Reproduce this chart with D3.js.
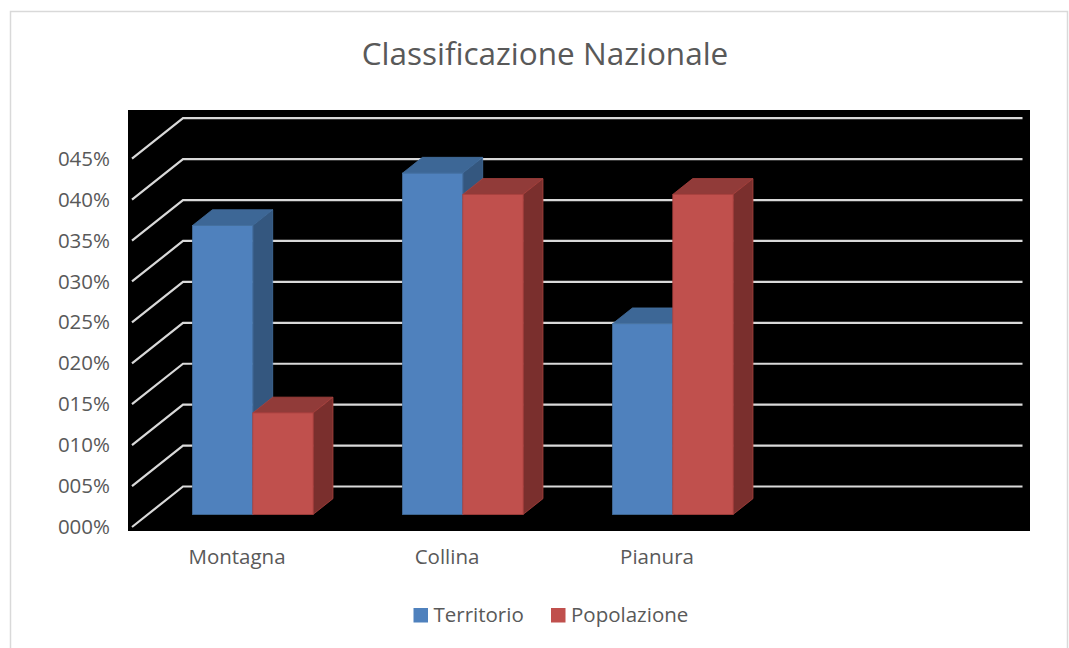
<!DOCTYPE html>
<html lang="it">
<head>
<meta charset="utf-8">
<title>Classificazione Nazionale</title>
<script src="https://cdn.jsdelivr.net/npm/d3@7"></script>
<style>
  body { margin: 0; background: #fff; }
  svg text { font-family: "Open Sans", sans-serif; fill: #595959; }
</style>
</head>
<body>
<svg id="chart" width="1069" height="648"></svg>
<script>
// data
var categories = ["Montagna", "Collina", "Pianura", ""];
var seriesNames = ["Territorio", "Popolazione"];
var territorio = [0.353, 0.417, 0.233];
var popolazione = [0.124, 0.391, 0.391];
var yTicks = [0, 0.05, 0.10, 0.15, 0.20, 0.25, 0.30, 0.35, 0.40, 0.45];

var W = 1069, H = 648;
var svg = d3.select("#chart");

// colours: front, top, side
var palette = {
  Territorio: { front: "#4F81BD", top: "#3D6796", side: "#34577F", edge: "#45709F" },
  Popolazione: { front: "#C0504D", top: "#913B39", side: "#7A2F2D", edge: "#A9423F" }
};

// oblique depth of the floor: full depth shifts x by +51, y by -40.5
var depthX = d3.scaleLinear().domain([0, 1]).range([0, 51]);
var depthY = d3.scaleLinear().domain([0, 1]).range([0, -40.5]);
var barDepth = [0.31, 0.70];

// scales on the front plane
var y = d3.scaleLinear().domain([0, 0.45]).range([527, 527 - 0.45 * 818.5]);
var x = d3.scaleBand().domain(categories).range([132, 972])
  .paddingInner(0.426).paddingOuter(0.213);
var xs = d3.scaleBand().domain(seriesNames).range([0, x.bandwidth()]);

// outer border
svg.append("rect")
  .attr("x", 10.5).attr("y", 11.5)
  .attr("width", 1057).attr("height", H)
  .attr("fill", "#fff").attr("stroke", "#D9D9D9").attr("stroke-width", 1.5);

// title
svg.append("text")
  .attr("x", 545).attr("y", 65)
  .attr("text-anchor", "middle")
  .style("font-size", "31.5px")
  .text("Classificazione Nazionale");

// black plot area
svg.append("rect")
  .attr("x", 128).attr("y", 110)
  .attr("width", 902).attr("height", 421)
  .attr("fill", "#000");

// gridlines: diagonal on the side wall, then flat along the back wall
svg.append("g").selectAll("path")
  .data(yTicks)
  .join("path")
  .attr("d", function(v) {
    var x0 = 132, y0 = y(v);
    var x1 = x0 + depthX(1), y1 = y0 + depthY(1);
    return "M" + x0 + "," + y0 + "L" + x1 + "," + y1 + "L1022.5," + y1;
  })
  .attr("fill", "none")
  .attr("stroke", "#D9D9D9")
  .attr("stroke-width", 2.2);

// bars
var bars = [];
categories.forEach(function(c, i) {
  if (territorio[i] != null) bars.push({ cat: c, s: "Territorio", v: territorio[i] });
  if (popolazione[i] != null) bars.push({ cat: c, s: "Popolazione", v: popolazione[i] });
});

var dx0 = depthX(barDepth[0]), dy0 = depthY(barDepth[0]);
var dd = depthX(barDepth[1]) - dx0, ddy = depthY(barDepth[1]) - dy0;

var g = svg.append("g").selectAll("g")
  .data(bars)
  .join("g");

g.each(function(d) {
  var sel = d3.select(this);
  var col = palette[d.s];
  var left = x(d.cat) + xs(d.s) + dx0;
  var right = left + xs.bandwidth();
  var bottom = y(0) + dy0;
  var top = y(d.v) + dy0;
  sel.append("path")
    .attr("d", "M" + left + "," + top + "L" + (left + dd) + "," + (top + ddy) +
      "L" + (right + dd) + "," + (top + ddy) + "L" + right + "," + top + "Z")
    .attr("fill", col.top).attr("stroke", col.edge).attr("stroke-width", 0.8);
  sel.append("path")
    .attr("d", "M" + right + "," + top + "L" + (right + dd) + "," + (top + ddy) +
      "L" + (right + dd) + "," + (bottom + ddy) + "L" + right + "," + bottom + "Z")
    .attr("fill", col.side).attr("stroke", col.edge).attr("stroke-width", 0.8);
  sel.append("rect")
    .attr("x", left).attr("y", top)
    .attr("width", right - left).attr("height", bottom - top)
    .attr("fill", col.front).attr("stroke", col.edge).attr("stroke-width", 0.8);
});

// y axis labels
var yAxis = svg.append("g")
  .attr("transform", "translate(132,0)")
  .call(d3.axisLeft(y).tickValues(yTicks).tickSize(0).tickPadding(22)
    .tickFormat(function(v) { return String(Math.round(v * 100)).padStart(3, "0") + "%"; }));
yAxis.select(".domain").remove();
yAxis.selectAll("text").style("font-size", "20.5px").style("font-family", "'Open Sans', sans-serif").attr("fill", "#595959");

// category labels
var xAxis = svg.append("g")
  .attr("transform", "translate(0," + y(0) + ")")
  .call(d3.axisBottom(x).tickSize(0).tickPadding(22));
xAxis.select(".domain").remove();
xAxis.selectAll("text").style("font-size", "20.5px").style("font-family", "'Open Sans', sans-serif").attr("fill", "#595959");

// legend
var legendX = [413.5, 551];
var legend = svg.append("g").selectAll("g")
  .data(seriesNames)
  .join("g")
  .attr("transform", function(d, i) { return "translate(" + legendX[i] + ",608)"; });
legend.append("rect")
  .attr("width", 14.5).attr("height", 14.5)
  .attr("fill", function(d) { return palette[d].front; });
legend.append("text")
  .attr("x", 20).attr("y", 14)
  .style("font-size", "20.5px")
  .text(function(d) { return d; });
</script>
</body>
</html>
